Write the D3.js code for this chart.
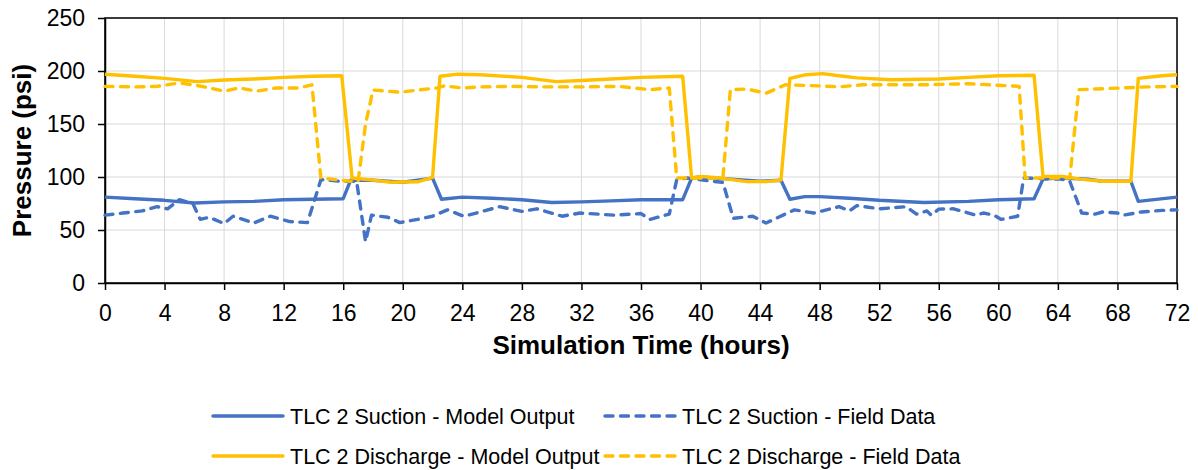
<!DOCTYPE html>
<html>
<head>
<meta charset="utf-8">
<script src="https://cdn.jsdelivr.net/npm/d3@7"></script>
<style>
  body { margin: 0; background: #fff; }
  svg { font-family: Arial, "Liberation Sans", sans-serif; }
  .grid line { stroke: #d9d9d9; stroke-width: 1; }
  .axis path, .axis line { stroke: #000; stroke-width: 1.5; }
  .axis text { font-size: 23px; fill: #000; }
</style>
</head>
<body>
<svg id="chart" width="1198" height="470"></svg>
<script>
// [hour, psi]
const suctionModel = [
  [0, 81], [2, 79.5], [4, 78], [6, 75.5], [8, 76.5], [10, 77], [12, 78.5], [14, 79], [16, 79.5],
  [16.5, 97], [18, 97], [20, 95], [22, 99], [22.6, 79], [24, 81], [26, 80], [28, 78.5], [30, 76],
  [32, 76.5], [34, 77.5], [36, 78.5], [38.8, 78.6], [39.4, 99], [40, 100], [42, 98], [44, 96],
  [45.4, 97], [46, 79], [47, 81.5], [48, 81.5], [50, 80], [52, 78], [55, 76], [58, 77], [60, 78.5],
  [62.4, 79.5], [63, 98], [64, 99], [66, 98], [67, 96], [68.9, 96], [69.4, 77], [70, 78], [72, 81]
];
const suctionField = [
  [0, 64], [1.2, 66], [2.5, 68], [3.5, 72], [4.2, 70], [5, 78.6], [5.9, 75], [6.4, 60], [7, 62],
  [8, 56], [8.6, 63], [10, 56.6], [11.1, 63], [12.4, 58], [13.6, 57], [14.5, 97.5], [15.8, 96],
  [16.9, 96], [17.5, 39], [17.9, 64], [19, 62], [19.8, 57], [21, 60], [22, 63], [23, 69], [24.1, 63],
  [25.2, 67], [26.5, 72], [28, 67.5], [29, 70], [30.7, 63], [31.9, 66], [34.2, 64], [36, 65.5],
  [36.6, 60], [37.9, 65], [38.4, 97.5], [39.1, 99], [40.8, 96], [41.5, 95], [42.2, 61], [43.5, 63],
  [44.4, 56.6], [46.3, 69], [47.6, 66], [49.3, 72], [50, 68], [50.5, 73], [52, 70], [53.8, 72],
  [54.5, 65], [55.2, 68], [55.5, 64], [56, 69.7], [57, 70], [58.5, 64], [59, 66], [59.7, 64],
  [60.2, 60], [61.3, 63], [61.7, 99], [64.2, 98], [64.8, 96], [65.6, 66], [66.5, 65], [67, 67],
  [68, 66], [68.4, 64], [69.6, 67], [71, 68.5], [72, 69]
];
const dischargeModel = [
  [0, 197], [2, 195], [4, 193], [6.2, 190], [8, 191.5], [10, 192.5], [12, 194], [14, 195],
  [15.9, 195.5], [16.6, 99], [18, 97], [19.2, 95], [21, 95.5], [22, 99.6], [22.5, 195], [23.7, 197],
  [25.2, 196.5], [28, 194], [30.3, 190], [32, 191], [34, 192.5], [36, 194], [38.8, 195], [39.4, 99],
  [40, 100.6], [41.3, 99], [43.1, 95.6], [44.4, 95.6], [45.4, 97], [46, 193], [47.1, 196.5],
  [48.2, 197.5], [49.3, 195.5], [50.5, 193.5], [52.8, 191.8], [56, 192.5], [58, 194], [60, 195.5],
  [62.4, 196], [63, 100.6], [64.3, 100.6], [65.5, 98], [67, 96], [68.9, 96], [69.4, 193],
  [71, 195.5], [72, 196.5]
];
const dischargeField = [
  [0, 185.5], [2, 185], [3.5, 185.5], [5, 188.7], [6.3, 186], [7, 184], [8, 181], [9, 184],
  [10.2, 181], [11.5, 184], [13, 184], [13.9, 187], [14.5, 99], [16.5, 96], [17, 96], [17.5, 150],
  [18, 182], [19.8, 180], [21, 182], [22.3, 184], [22.8, 186], [24, 184], [25.2, 185], [27.4, 185.5],
  [29.7, 185], [32, 185], [34.5, 185.5], [36.6, 182.4], [37.9, 184], [38.4, 99], [39.3, 99],
  [41.5, 99], [42, 182.4], [43.1, 183], [44.4, 179], [45.7, 187], [48, 186], [49.3, 185],
  [50.9, 187], [55, 187], [58, 188], [61.4, 185.5], [61.8, 99], [63, 99], [64.8, 99], [65.4, 182.4],
  [66.5, 183], [70, 185], [72, 185.5]
];

const xTicks = d3.range(0, 73, 4);
const yTicks = [0, 50, 100, 150, 200, 250];

const series = [
  { name: 'TLC 2 Suction - Model Output', data: suctionModel, color: '#4472C4', dash: null },
  { name: 'TLC 2 Suction - Field Data', data: suctionField, color: '#4472C4', dash: '8,7.5' },
  { name: 'TLC 2 Discharge - Model Output', data: dischargeModel, color: '#FFC000', dash: null },
  { name: 'TLC 2 Discharge - Field Data', data: dischargeField, color: '#FFC000', dash: '8,7.5' }
];

const margin = { left: 105, right: 21, top: 18, bottom: 187 };
const svg = d3.select('#chart');
const width = +svg.attr('width') - margin.left - margin.right;
const height = +svg.attr('height') - margin.top - margin.bottom;
const g = svg.append('g').attr('transform', `translate(${margin.left},${margin.top})`);

const x = d3.scaleLinear().domain([0, 72]).range([0, width]);
const y = d3.scaleLinear().domain([0, 250]).range([height, 0]);

g.append('g').attr('class', 'grid')
  .selectAll('line.v').data(xTicks).enter().append('line')
  .attr('x1', d => x(d)).attr('x2', d => x(d)).attr('y1', 0).attr('y2', height);
g.append('g').attr('class', 'grid')
  .selectAll('line.h').data(yTicks).enter().append('line')
  .attr('x1', 0).attr('x2', width).attr('y1', d => y(d)).attr('y2', d => y(d));

// box
g.append('rect').attr('width', width).attr('height', height)
  .attr('fill', 'none').attr('stroke', '#000').attr('stroke-width', 1.5);

g.append('g').attr('class', 'axis')
  .attr('transform', `translate(0,${height})`)
  .call(d3.axisBottom(x).tickValues(xTicks).tickSize(7).tickPadding(15).tickSizeOuter(0));
g.append('g').attr('class', 'axis')
  .call(d3.axisLeft(y).tickValues(yTicks).tickSize(7).tickPadding(13).tickSizeOuter(0));

const line = d3.line().x(d => x(d[0])).y(d => y(d[1]));
series.forEach(s => {
  g.append('path')
    .datum(s.data)
    .attr('d', line)
    .attr('fill', 'none')
    .attr('stroke', s.color)
    .attr('stroke-width', 3.4)
    .attr('stroke-linejoin', 'round')
    .attr('stroke-linecap', s.dash ? 'round' : 'butt')
    .attr('stroke-dasharray', s.dash);
});

svg.append('text')
  .attr('x', margin.left + width / 2).attr('y', 354)
  .attr('text-anchor', 'middle')
  .attr('font-size', '26px').attr('font-weight', 'bold')
  .text('Simulation Time (hours)');
svg.append('text')
  .attr('transform', `translate(31,${margin.top + height / 2}) rotate(-90)`)
  .attr('text-anchor', 'middle')
  .attr('font-size', '26px').attr('font-weight', 'bold')
  .text('Pressure (psi)');

// legend, two columns
const legendX = [213, 605];
const legendY = [416, 456];
series.forEach((s, i) => {
  const lx = legendX[i % 2];
  const ly = legendY[Math.floor(i / 2)];
  const item = svg.append('g').attr('transform', `translate(${lx},${ly})`);
  item.append('line')
    .attr('x1', 0).attr('x2', 70)
    .attr('stroke', s.color).attr('stroke-width', 3.4)
    .attr('stroke-linecap', 'round')
    .attr('stroke-dasharray', s.dash);
  item.append('text')
    .attr('x', 77).attr('dy', '0.35em')
    .attr('font-size', '21.5px')
    .text(s.name);
});
</script>
</body>
</html>
